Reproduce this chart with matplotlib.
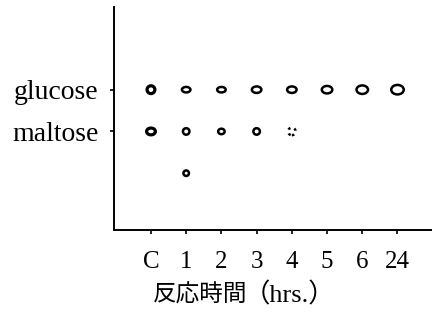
import matplotlib
matplotlib.use("Agg")
import matplotlib.pyplot as plt
from matplotlib.patches import Ellipse
import matplotlib.transforms as mtransforms

# ---- data ----
times = ['C', '1', '2', '3', '4', '5', '6', '24']
lane_labels = ['glucose', 'maltose']
# spot sizes (outer width, height) in pixels; None = no spot
glucose_w = [11, 11, 11, 12, 12, 13, 14, 15]
glucose_h = [11, 8, 8, 9, 9, 10, 11, 12]
maltose_w = [12, 9, 9, 9, 10, None, None, None]
maltose_h = [10, 9, 8, 9, 10, None, None, None]
third_w = [None, 8, None, None, None, None, None, None]
third_h = [None, 8, None, None, None, None, None, None]
faint = {('maltose', 4)}

W, H = 432, 317
fig = plt.figure(figsize=(W / 100, H / 100), dpi=100)
ax = fig.add_axes([114 / W, (H - 230) / H, (432 - 114) / W, (230 - 7) / H])

ax.set_xlim(-1.05, 7.98)
ax.set_ylim(-0.36, 4.98)
for s in ['top', 'right']:
    ax.spines[s].set_visible(False)
for s in ['left', 'bottom']:
    ax.spines[s].set_linewidth(1.4)

ax.set_xticks(range(len(times)))
ax.set_xticklabels(times, family='Liberation Serif', fontsize=18)
ax.set_yticks([3, 2])
ax.set_yticklabels(lane_labels, family='Liberation Serif', fontsize=20)
ax.tick_params(axis='x', direction='out', length=3, width=1.2, pad=12)
ax.tick_params(axis='y', direction='out', length=3, width=1.2, pad=8)

rows = [('glucose', 3, glucose_w, glucose_h),
        ('maltose', 2, maltose_w, maltose_h),
        ('third', 1, third_w, third_h)]
for name, yv, ws, hs in rows:
    for i, (w, h) in enumerate(zip(ws, hs)):
        if w is None:
            continue
        tr = fig.dpi_scale_trans + mtransforms.ScaledTranslation(i, yv, ax.transData)
        lw = 2.3 if i == 0 else 1.8
        lw_px = lw * 100 / 72
        ls = ':' if (name, i) in faint else '-'
        e = Ellipse((0, 0), (w - lw_px) / 100, (h - lw_px) / 100, transform=tr,
                    fill=False, edgecolor='black', linewidth=lw, linestyle=ls)
        ax.add_patch(e)

fig.text(153 / W, 1 - 295 / H, '反応時間', ha='left', va='center',
         fontsize=17, family=['Noto Sans CJK JP'])
fig.text(244 / W, 1 - 295 / H, '（hrs.）', ha='left', va='center',
         fontsize=19, family=['Liberation Serif', 'Noto Sans CJK JP'])

fig.savefig('out.png', dpi=100)
